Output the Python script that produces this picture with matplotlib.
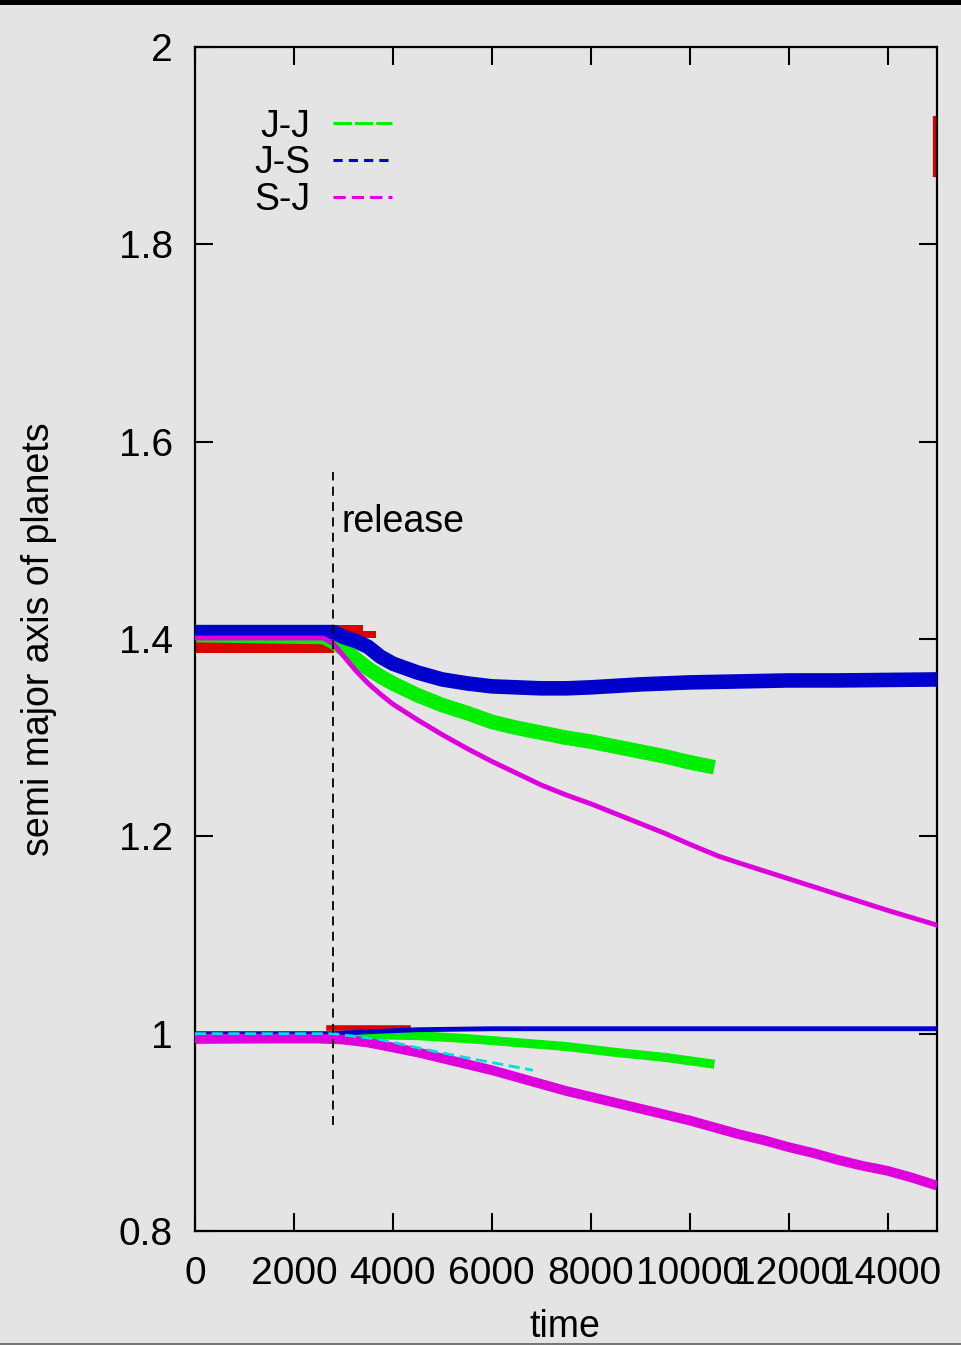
import matplotlib
matplotlib.use("Agg")
import matplotlib.pyplot as plt
from matplotlib.lines import Line2D
from matplotlib.patches import Rectangle

plt.rcParams['font.family'] = ['Liberation Sans', 'DejaVu Sans']

# ---------------- data ----------------
# outer planet (a ~ 1.4)
t_jj_out = [0, 2600, 2800, 3000, 3250, 3500, 3750, 4000, 4500, 5000, 5500, 6000, 6500,
            7000, 7500, 8000, 8500, 9000, 9500, 10000, 10500]
a_jj_out = [1.404, 1.402, 1.397, 1.390, 1.380, 1.370, 1.362, 1.355, 1.343, 1.333, 1.325,
            1.316, 1.310, 1.305, 1.300, 1.296, 1.291, 1.286, 1.281, 1.275, 1.270]

t_js_out = [0, 2800, 3000, 3250, 3500, 3750, 4000, 4500, 5000, 5500, 6000, 6500, 7000,
            7500, 8000, 9000, 10000, 11000, 12000, 13000, 15000]
a_js_out = [1.407, 1.407, 1.402, 1.398, 1.392, 1.382, 1.375, 1.366, 1.359, 1.355, 1.352,
            1.351, 1.350, 1.350, 1.351, 1.354, 1.356, 1.357, 1.358, 1.358, 1.359]

t_sj_out = [0, 2600, 2800, 3000, 3250, 3500, 3750, 4000, 4500, 5000, 5500, 6000, 6500,
            7000, 7500, 8000, 8500, 9000, 9500, 10000, 10578, 11000, 12000, 13000, 14000, 15000]
a_sj_out = [1.401, 1.401, 1.395, 1.383, 1.368, 1.355, 1.344, 1.334, 1.318, 1.303, 1.289,
            1.276, 1.264, 1.252, 1.242, 1.233, 1.223, 1.213, 1.203, 1.192, 1.180, 1.173,
            1.157, 1.141, 1.125, 1.110]

# extra (unlabelled) red run
t_red_out = [0, 2800, 2800, 3400, 3400, 3650]
a_red_lo = [1.386, 1.386, 1.399, 1.399, 1.401, 1.401]
a_red_hi = [1.414, 1.414, 1.414, 1.414, 1.408, 1.408]
t_red_in = [2700, 4300]
a_red_in = [1.006, 1.006]
t_red_edge = [14960, 14960]
a_red_edge = [1.870, 1.928]

# inner planet (a ~ 1.0)
t_jj_in = [0, 2800, 3500, 4500, 5500, 6500, 7500, 8500, 9500, 10500]
a_jj_in = [0.994, 0.996, 0.999, 0.998, 0.995, 0.991, 0.987, 0.981, 0.976, 0.969]

t_js_in = [0, 2800, 3500, 4500, 6000, 15000]
a_js_in = [1.000, 1.000, 1.002, 1.004, 1.005, 1.005]

t_sj_in = [0, 2500, 3000, 3500, 4000, 4500, 5000, 5500, 6000, 6500, 7000, 7500, 8000,
           8500, 9000, 9500, 10000, 10500, 11000, 11500, 12000, 12500, 13000, 13500,
           14000, 14500, 15000]
a_sj_in = [0.995, 0.995, 0.994, 0.991, 0.986, 0.981, 0.975, 0.969, 0.963, 0.956, 0.949,
           0.942, 0.936, 0.930, 0.924, 0.918, 0.912, 0.905, 0.898, 0.892, 0.885, 0.879,
           0.872, 0.866, 0.861, 0.854, 0.846]

t_cyan = [0, 2800, 3740, 4750, 5760, 6830]
a_cyan = [1.000, 1.000, 0.994, 0.983, 0.973, 0.963]

t_release = 2790
release_span = [0.907, 1.569]

xticks = [0, 2000, 4000, 6000, 8000, 10000, 12000, 14000]
xticklabels = ['0', '2000', '4000', '6000', '8000', '10000', '12000', '14000']
yticks = [0.8, 1.0, 1.2, 1.4, 1.6, 1.8, 2.0]
yticklabels = ['0.8', '1', '1.2', '1.4', '1.6', '1.8', '2']
legend_labels = ['J-J', 'J-S', 'S-J']

# ---------------- style ----------------
BG = '#e4e4e4'
GREEN = '#00ee00'
BLUE = '#0000cc'
MAG = '#dd00dd'
RED = '#dd0000'
CYAN = '#00dddd'
FS = 27
TFS = 28

fig = plt.figure(figsize=(9.61, 13.45), dpi=100, facecolor=BG)
ax = fig.add_axes([195/961, 1 - 1231/1345, (937-195)/961, (1231-47)/1345])
ax.set_facecolor(BG)

# frame decorations of the screenshot
fig.patches.append(Rectangle((0, 1 - 5/1345), 1, 5/1345, transform=fig.transFigure,
                             facecolor='black', edgecolor='none', zorder=0))
fig.patches.append(Rectangle((0, 0), 1, 2/1345, transform=fig.transFigure,
                             facecolor='#777777', edgecolor='none', zorder=0))

# outer
ax.fill_between(t_red_out, a_red_lo, a_red_hi, color=RED, lw=0, zorder=1)
ax.plot(t_jj_out, a_jj_out, color=GREEN, lw=10.5, solid_capstyle='butt', zorder=2)
ax.plot(t_js_out, a_js_out, color=BLUE, lw=10.5, solid_capstyle='butt', zorder=3)
ax.plot(t_sj_out, a_sj_out, color=MAG, lw=3.5, zorder=4)
ax.plot(t_red_edge, a_red_edge, color=RED, lw=3, zorder=1)

# inner
ax.plot(t_red_in, a_red_in, color=RED, lw=4, zorder=1)
ax.plot(t_jj_in, a_jj_in, color=GREEN, lw=6.5, solid_capstyle='butt', zorder=2)
ax.plot(t_js_in, a_js_in, color=BLUE, lw=3.5, zorder=3)
ax.plot(t_sj_in, a_sj_in, color=MAG, lw=7, solid_capstyle='butt', zorder=4)
ax.plot(t_cyan, a_cyan, color=CYAN, lw=2, ls=(0, (4, 2)), zorder=5)

# release marker
ax.vlines(t_release, release_span[0], release_span[1], colors='black', lw=1.3,
          linestyles=(0, (5, 3.5)), zorder=6)
ax.text(t_release + 180, 1.519, 'release', fontsize=FS, va='center', ha='left', zorder=7)

ax.set_xlim(0, 15000)
ax.set_ylim(0.8, 2.0)
ax.set_xticks(xticks)
ax.set_xticklabels(xticklabels)
ax.set_yticks(yticks)
ax.set_yticklabels(yticklabels)
ax.tick_params(direction='in', length=13, width=1.5, top=True, right=True,
               labelsize=TFS, colors='black')
ax.tick_params(axis='x', pad=18)
ax.tick_params(axis='y', pad=16)
for s in ax.spines.values():
    s.set_linewidth(1.6)
    s.set_color('black')

ax.set_xlabel('time', fontsize=FS)
ax.set_ylabel('semi major axis of planets', fontsize=FS)
ax.xaxis.set_label_coords(0.499, -0.066)
ax.yaxis.set_label_coords(-0.186, 0.5)

handles = [Line2D([], [], color=GREEN, lw=2.2, ls=(0, (6, 1))),
           Line2D([], [], color=BLUE, lw=2.2, ls=(0, (3, 2))),
           Line2D([], [], color=MAG, lw=2.2, ls=(0, (4, 2)))]
ax.legend(handles, legend_labels, loc='upper left', bbox_to_anchor=(0.080, 0.948),
          frameon=False, markerfirst=False, fontsize=FS, handlelength=1.57,
          handletextpad=0.61, labelspacing=0.02, borderpad=0, borderaxespad=0)

fig.savefig('out.png', dpi=100, facecolor=BG)
